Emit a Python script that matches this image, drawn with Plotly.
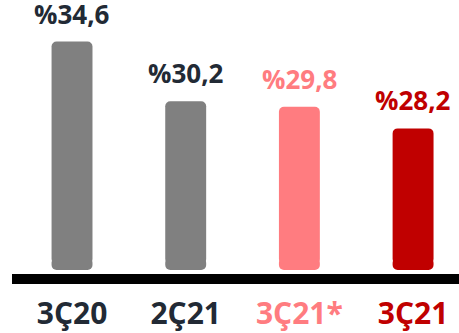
import plotly.graph_objects as go

categories = ["3Ç20", "2Ç21", "3Ç21*", "3Ç21"]
values = [34.6, 30.2, 29.8, 28.2]
value_labels = ["%34,6", "%30,2", "%29,8", "%28,2"]
bar_colors = ["#808080", "#808080", "#FF7C80", "#C00000"]
text_colors = ["#222A35", "#222A35", "#FF7C80", "#C00000"]

W, H = 459, 333
FONT = "Open Sans"

# value where the bars start and the y range of the plot
base_val = 17.76
up_base = base_val + 0.45     # upper piece starts here
low_top = base_val + 0.9      # lower piece reaches here (small overlap hides joins)
y_range = [17.47, 37.66]

x = list(range(len(categories)))

fig = go.Figure()
# lower part of each bar (rounded bottom)
fig.add_trace(go.Bar(
    x=x, y=[base_val - low_top] * len(values), base=[low_top] * len(values),
    width=0.36, marker=dict(color=bar_colors, line=dict(width=0), cornerradius=5),
    hoverinfo="skip", showlegend=False,
))
# upper part of each bar (rounded top)
fig.add_trace(go.Bar(
    x=x, y=[v - up_base for v in values], base=[up_base] * len(values),
    width=0.36, marker=dict(color=bar_colors, line=dict(width=0), cornerradius=5),
    hoverinfo="skip", showlegend=False,
))

for i, (v, lab, c) in enumerate(zip(values, value_labels, text_colors)):
    fig.add_annotation(
        x=i, y=v, xref="x", yref="y", text=f"<b>{lab}</b>", showarrow=False,
        yanchor="bottom", yshift=8,
        font=dict(family=FONT, size=26, color=c),
    )

ticktext = [f'<span style="color:{c}"><b>{t}</b></span>' for t, c in zip(categories, text_colors)]

fig.update_layout(
    width=W, height=H,
    margin=dict(l=12, r=0, t=0, b=59),
    barmode="overlay",
    plot_bgcolor="white", paper_bgcolor="white",
    xaxis=dict(
        range=[-0.528, 3.404], tickvals=x, ticktext=ticktext,
        showgrid=False, zeroline=False, showline=True, linecolor="black", linewidth=10,
        ticks="", tickfont=dict(family=FONT, size=30, color="#222A35"),
        ticklabelstandoff=4, fixedrange=True,
    ),
    yaxis=dict(range=y_range, visible=False, fixedrange=True),
)

fig.write_html("out.html", config={"displayModeBar": False})
